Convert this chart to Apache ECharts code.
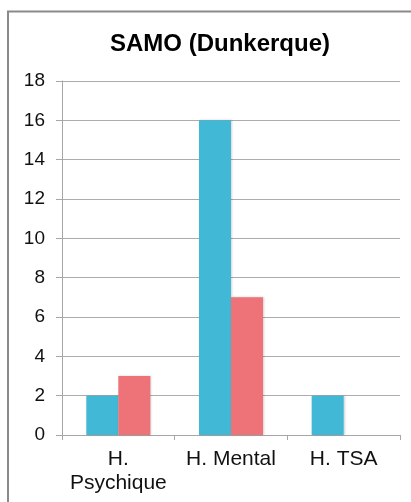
<!DOCTYPE html>
<html>
<head>
<meta charset="utf-8">
<script src="https://cdn.jsdelivr.net/npm/echarts@6/dist/echarts.min.js"></script>
<style>
  html, body { margin: 0; padding: 0; background: #fff; }
  #chart { width: 411px; height: 502px; }
</style>
</head>
<body>
<div id="chart"></div>
<script>
// SAMO (Dunkerque) – counts per category, two series
const categories = ['H.\nPsychique', 'H. Mental', 'H. TSA'];
const seriesBlue = [2, 16, 2];
const seriesRed = [3, 7, null];
const yTicks = { min: 0, max: 18, interval: 2 };

const font = 'Liberation Sans, Arial, sans-serif';
const barShadow = { shadowBlur: 2, shadowOffsetX: 1, shadowOffsetY: 0, shadowColor: 'rgba(0,0,0,0.18)' };

const chart = echarts.init(document.getElementById('chart'), null, { renderer: 'canvas' });
chart.setOption({
  animation: false,
  backgroundColor: '#ffffff',
  title: {
    text: 'SAMO (Dunkerque)',
    left: 215,
    textAlign: 'center',
    top: 27,
    textStyle: { fontFamily: font, fontWeight: 'bold', fontSize: 24, color: '#000' }
  },
  graphic: [
    { type: 'polyline', shape: { points: [[8, 502], [8, 11.5], [411, 11.5]] },
      style: { stroke: '#8a8a8a', lineWidth: 2, fill: null } }
  ],
  grid: { left: 62, right: 11, top: 81, bottom: 67, containLabel: false },
  xAxis: {
    type: 'category',
    data: categories,
    axisLine: { lineStyle: { color: '#a6a6a6', width: 1 } },
    axisTick: { show: true, alignWithLabel: false, length: 5, lineStyle: { color: '#a6a6a6' } },
    axisLabel: { color: '#111', fontSize: 21, fontFamily: font, margin: 12, lineHeight: 24, interval: 0 }
  },
  yAxis: {
    type: 'value',
    min: yTicks.min, max: yTicks.max, interval: yTicks.interval,
    axisLine: { show: true, lineStyle: { color: '#a6a6a6', width: 1 } },
    axisTick: { show: true, length: 6, lineStyle: { color: '#a6a6a6' } },
    splitLine: { lineStyle: { color: '#acacac', width: 1 } },
    axisLabel: { color: '#111', fontSize: 19, fontFamily: font, margin: 17 }
  },
  series: [
    { type: 'bar', data: seriesBlue, barWidth: 32, barGap: '0%',
      itemStyle: Object.assign({ color: '#41b8d5' }, barShadow) },
    { type: 'bar', data: seriesRed, barWidth: 32, barGap: '0%',
      itemStyle: Object.assign({ color: '#ee7379' }, barShadow) }
  ]
});
</script>
</body>
</html>
